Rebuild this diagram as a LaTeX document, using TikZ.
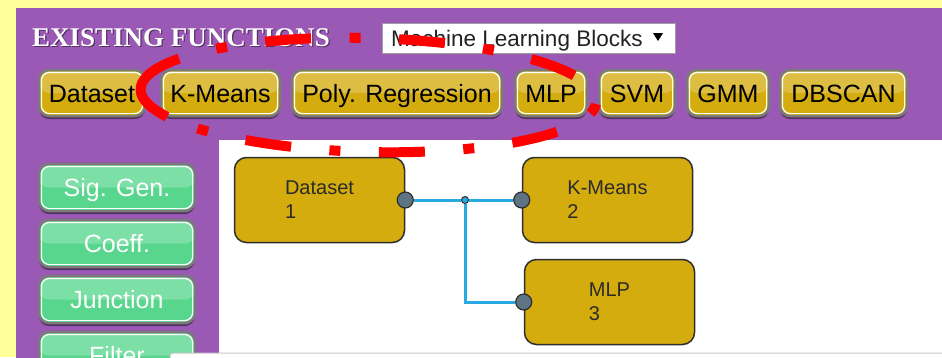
\documentclass[tikz,border=0pt]{standalone}
\usepackage{fontspec}
\setmainfont{Liberation Sans}
\newfontfamily\titlefont{Liberation Serif}
\usetikzlibrary{shadows,calc}
\definecolor{bgyellow}{HTML}{FFFF99}
\definecolor{panel}{HTML}{9B59B6}
\definecolor{gold}{HTML}{D4AC0D}
\definecolor{btngreen}{HTML}{58D68D}
\definecolor{btnborder}{HTML}{7A7A7A}
\definecolor{wire}{HTML}{29A9E1}
\definecolor{portfill}{HTML}{5E7482}
\definecolor{blockline}{HTML}{2E2E2E}
\definecolor{blocktext}{HTML}{2B2B2B}
\definecolor{ddborder}{HTML}{A0A0A0}
\definecolor{ddtext}{HTML}{222222}
\definecolor{barline}{HTML}{C8C8C8}
\tikzset{
  gbtn/.style={rounded corners=10pt, draw=btnborder, line width=2.5pt, inner sep=0pt,
    minimum height=46pt, text height=18pt, text depth=0pt,
    font=\fontsize{25pt}{30pt}\selectfont,
    drop shadow={shadow xshift=0pt, shadow yshift=-3pt, opacity=.45, fill=black},
    path picture={
      \fill[white, opacity=.22] (path picture bounding box.north west) rectangle (path picture bounding box.east);
      \draw[white, line width=1.2pt, rounded corners=8pt]
        ([shift={(2.4pt,-2.4pt)}]path picture bounding box.north west) rectangle
        ([shift={(-2.4pt,2.4pt)}]path picture bounding box.south east);
    }},
  topbtn/.style={gbtn, fill=gold, text=black},
  sidebtn/.style={gbtn, fill=btngreen, text=white, minimum width=156pt, minimum height=47pt},
  titletxt/.style={font=\titlefont\bfseries\fontsize{27pt}{32pt}\selectfont, inner sep=0pt},
  block/.style={draw=blockline, line width=1.5pt, fill=gold, rounded corners=12pt,
    minimum width=170pt, minimum height=85pt, align=left, text=blocktext,
    font=\fontsize{20pt}{24pt}\selectfont, inner sep=0pt},
  port/.style={circle, draw=blockline, line width=1.2pt, fill=portfill, minimum size=16pt, inner sep=0pt},
  junc/.style={circle, draw=blockline, fill=wire, line width=1pt, minimum size=7pt, inner sep=0pt},
  wireline/.style={draw=wire, line width=3pt},
  reddash/.style={draw=red, line width=10pt, dash pattern=on 11pt off 38.5pt on 46pt off 38.5pt, dash phase=95.5pt},
  redsolid/.style={draw=red, line width=10pt}
}
\begin{document}
\begin{tikzpicture}[x=1pt,y=-1pt]
\useasboundingbox (0,0) rectangle (942,357);
\clip (0,0) rectangle (942,357);
\fill[bgyellow] (0,0) rectangle (942,357);
\fill[panel] (16,8) rectangle (950,365);
\fill[white] (219,140) rectangle (950,353);
% title
\node[titletxt, text=black, opacity=.45, anchor=base west] (titlesh) at (33.2,47.2) {EXISTING FUNCTIONS};
\node[titletxt, text=white, anchor=base west] (title) at (32,46) {EXISTING FUNCTIONS};
% dropdown
\node[draw=ddborder, fill=white, line width=1pt, minimum width=293pt, minimum height=29.5pt, inner sep=0pt, anchor=north west] (dd) at (382,23) {};
\node[anchor=base west, inner sep=0pt, font=\fontsize{22.5pt}{27pt}\selectfont, text=ddtext] (ddlabel) at (391,46) {Machine Learning Blocks};
\fill[black] (653,33) -- (663,33) -- (658,41) -- cycle;
% top buttons
\node[topbtn, minimum width=106pt] (bDataset) at (92,93) {Dataset};
\node[topbtn, minimum width=119pt] (bKMeans) at (220.5,93) {K-Means};
\node[topbtn, minimum width=210pt] (bPoly) at (397,93) {Poly. Regression};
\node[topbtn, minimum width=72pt] (bMLP) at (551,93) {MLP};
\node[topbtn, minimum width=76pt] (bSVM) at (637,93) {SVM};
\node[topbtn, minimum width=82pt] (bGMM) at (728,93) {GMM};
\node[topbtn, minimum width=127pt] (bDBSCAN) at (843.5,93) {DBSCAN};
% side buttons
\node[sidebtn] (sSig) at (117,187.5) {Sig. Gen.};
\node[sidebtn] (sCoeff) at (117,243.5) {Coeff.};
\node[sidebtn] (sJunc) at (117,299.5) {Junction};
\node[sidebtn] (sFilter) at (117,355.5) {Filter};
% bottom bar
\draw[fill=white, draw=barline, line width=1pt, rounded corners=3pt] (170,353) rectangle (960,375);
% blocks
\node[block] (b1) at (319.5,200) {Dataset\\1};
\node[block] (b2) at (607.5,200) {K-Means\\2};
\node[block] (b3) at (609.5,302) {MLP\\3};
\node[port] (p1) at (b1.east) {};
\node[port] (p2) at (b2.west) {};
\node[port] (p3) at (b3.west) {};
\node[junc] (j) at (465,200) {};
\draw[wireline] (p1) -- (j);
\draw[wireline] (j) -- (p2);
\draw[wireline] (j) |- (p3);
% red dashed ellipse
\begin{scope}[rotate around={-1.5:(368.5,95)}]
\draw[reddash] (368.5,95) ++(213.4:228 and 57) arc[start angle=213.4, end angle=511.7, x radius=228, y radius=57];
\draw[redsolid] (368.5,95) ++(151.7:228 and 57) arc[start angle=151.7, end angle=213.4, x radius=228, y radius=57];
\end{scope}
\end{tikzpicture}
\end{document}
